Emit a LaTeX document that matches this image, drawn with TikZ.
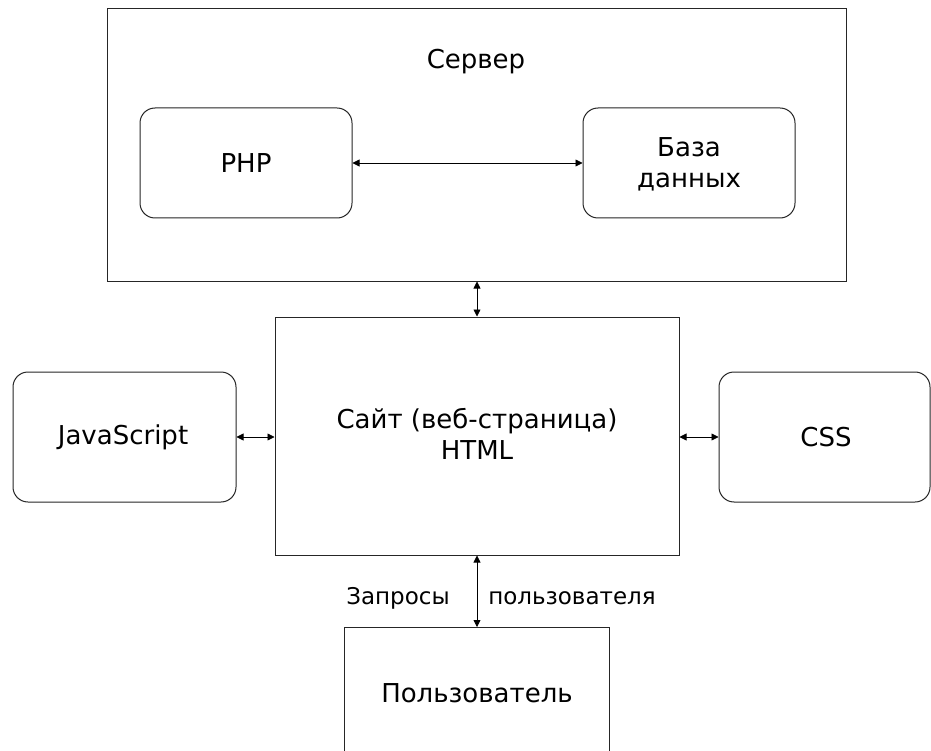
\documentclass[tikz,border=0pt]{standalone}
\usepackage{fontspec}
\setmainfont{DejaVu Sans}
\usetikzlibrary{arrows.meta}
\begin{document}
\begin{tikzpicture}[x=1pt,y=-1pt,
  box/.style={draw=black!85, line width=1pt, inner sep=0pt},
  rbox/.style={box, rounded corners=15pt},
  txt/.style={font=\fontsize{26}{31}\selectfont, align=center, inner sep=0pt},
  lbl/.style={font=\fontsize{23}{28}\selectfont, inner sep=0pt},
  link/.style={draw=black, line width=0.8pt,
    {Triangle[length=7pt,width=7pt]}-{Triangle[length=7pt,width=7pt]}}]
\useasboundingbox (0,0) rectangle (931,751);
\fill[white] (0,0) rectangle (931,751);

% server with its two components
\node[box, minimum width=739pt, minimum height=272pt] (server) at (476.5,145) {};
\node[txt] (servertitle) at (476,62) {Сервер};
\node[rbox, minimum width=212pt, minimum height=110pt] (php) at (246,163) {};
\node[txt] (phptext) at (246,163) {PHP};
\node[rbox, minimum width=212pt, minimum height=110pt] (db) at (689,163) {};
\node[txt] (dbtext) at (689,164) {База\\данных};

% the web page and its helpers
\node[box, minimum width=404pt, minimum height=238pt] (site) at (477,436) {};
\node[txt] (sitetext) at (477,434) {Сайт (веб-страница)\\HTML};
\node[rbox, minimum width=223pt, minimum height=130pt] (js) at (124.5,437) {};
\node[txt] (jstext) at (123,437) {JavaScript};
\node[rbox, minimum width=211pt, minimum height=130pt] (css) at (824.5,437) {};
\node[txt] (csstext) at (826,437) {CSS};

% the user, running off the bottom edge
\node[box, minimum width=265pt, minimum height=200pt, anchor=north] (user) at (477,627) {};
\node[txt] (usertext) at (477,693) {Пользователь};

% connections
\draw[link] (php.east) -- (db.west);
\draw[link] (server.south -| site.north) -- (site.north);
\draw[link] (js.east) -- (js.east -| site.west);
\draw[link] (css.west -| site.east) -- (css.west);
\draw[link] (site.south) -- (user.north);

\node[lbl, anchor=base] (req) at (398,604) {Запросы};
\node[lbl, anchor=base] (ofuser) at (572,604) {пользователя};
\end{tikzpicture}
\end{document}
